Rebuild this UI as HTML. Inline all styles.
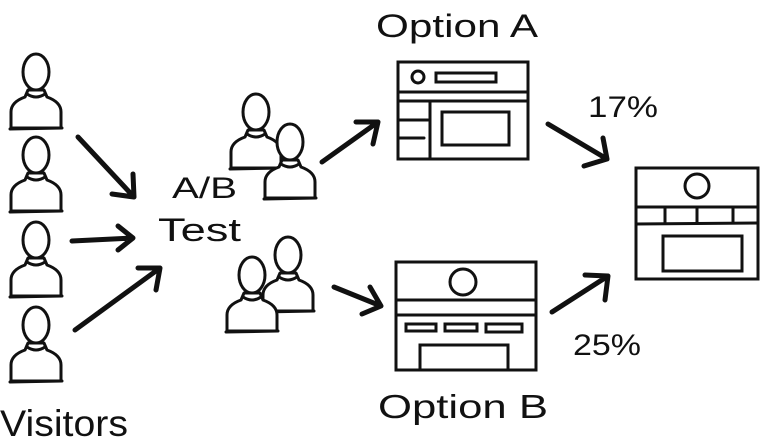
<!DOCTYPE html>
<html><head><meta charset="utf-8"><style>
html,body{margin:0;padding:0;background:#fff;}
svg{display:block;}
text{font-family:"Liberation Sans",sans-serif;fill:#111;}
</style></head><body>
<svg width="764" height="443" viewBox="0 0 764 443" xmlns="http://www.w3.org/2000/svg">
<defs>
<g id="p" fill="#fff" stroke="#111" stroke-width="3" stroke-linecap="round" stroke-linejoin="round">
<path d="M-25,56 L-25,40 Q-25,30 -11,25 L-8,18 L8,18 L11,25 Q25,30 25,40 L25,56 Z" />
<path d="M-26,57 L26,56" fill="none"/>
<path d="M-9,22 Q0,28 9,22" fill="none"/>
<ellipse cx="0" cy="0" rx="13" ry="18"/>
</g>
</defs>
<!-- visitors -->
<use href="#p" x="36" y="72"/>
<use href="#p" x="36" y="155"/>
<use href="#p" x="36" y="240"/>
<use href="#p" x="36" y="325"/>
<!-- pairs -->
<use href="#p" x="256" y="112"/>
<use href="#p" x="290" y="142"/>
<use href="#p" x="288" y="255"/>
<use href="#p" x="252" y="275"/>

<g fill="none" stroke="#111" stroke-width="5" stroke-linecap="round" stroke-linejoin="round">
<path d="M78,137 L134,197 M112,194 L134,197 L133,174"/>
<path d="M72,241 L133,238 M118,226 L133,238 L118,250"/>
<path d="M75,330 L160,268 M138,268 L160,268 L156,290"/>
<path d="M322,162 L378,122 M356,122 L378,122 L373,144"/>
<path d="M334,287 L381,306 M370,287 L381,306 L362,314"/>
<path d="M548,124 L607,159 M584,166 L607,159 L603,138"/>
<path d="M552,312 L608,276 M585,275 L608,276 L605,300"/>
</g>

<g fill="none" stroke="#111" stroke-width="3" stroke-linecap="round">
<!-- Option A -->
<rect x="398" y="62" width="130" height="97"/>
<line x1="398" y1="92" x2="528" y2="92"/>
<line x1="398" y1="101" x2="528" y2="101"/>
<line x1="430" y1="101" x2="430" y2="159"/>
<line x1="398" y1="120" x2="428" y2="120"/>
<line x1="398" y1="138" x2="424" y2="138"/>
<circle cx="418" cy="77" r="6"/>
<rect x="436" y="73" width="60" height="9"/>
<rect x="442" y="112" width="67" height="33"/>
<!-- Option B -->
<rect x="396" y="262" width="140" height="108"/>
<circle cx="463" cy="282" r="13"/>
<line x1="396" y1="300" x2="536" y2="300"/>
<line x1="396" y1="315" x2="536" y2="315"/>
<rect x="406" y="324" width="30" height="7"/>
<rect x="445" y="324" width="32" height="7"/>
<rect x="486" y="324" width="36" height="8"/>
<path d="M420,370 L420,345 L508,345 L508,370"/>
<!-- result -->
<rect x="636" y="168" width="122" height="111"/>
<circle cx="697" cy="186" r="12"/>
<line x1="636" y1="207" x2="758" y2="207"/>
<line x1="636" y1="224" x2="758" y2="223"/>
<line x1="665" y1="207" x2="665" y2="222"/>
<line x1="697" y1="207" x2="697" y2="223"/>
<line x1="733" y1="207" x2="733" y2="223"/>
<rect x="663" y="236" width="79" height="35"/>
</g>

<text x="376" y="37" font-size="32" textLength="162" lengthAdjust="spacingAndGlyphs">Option A</text>
<text x="378" y="418" font-size="33" textLength="170" lengthAdjust="spacingAndGlyphs">Option B</text>
<text x="0" y="436" font-size="37" textLength="128" lengthAdjust="spacingAndGlyphs">Visitors</text>
<text x="172" y="198" font-size="30" textLength="65" lengthAdjust="spacingAndGlyphs">A/B</text>
<text x="158" y="241" font-size="32" textLength="83" lengthAdjust="spacingAndGlyphs">Test</text>
<text x="588" y="117" font-size="30" textLength="70" lengthAdjust="spacingAndGlyphs">17%</text>
<text x="573" y="355" font-size="30" textLength="68" lengthAdjust="spacingAndGlyphs">25%</text>
</svg>
</body></html>
